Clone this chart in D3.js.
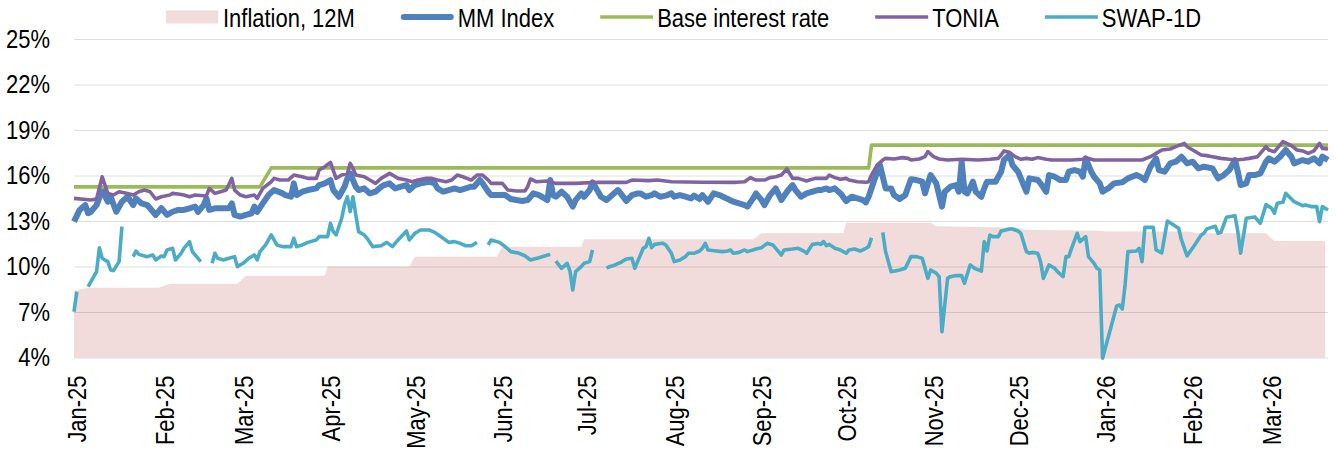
<!DOCTYPE html>
<html lang="en">
<head>
<meta charset="UTF-8">
<title>Money market rates</title>
<script src="https://d3js.org/d3.v7.min.js"></script>
<style>
  body { margin: 0; background: #fff; }
  text { font-family: "Liberation Sans", Arial, sans-serif; fill: #000; }
</style>
</head>
<body>
<svg id="chart" width="1336" height="449"></svg>
<script>
// ---- data ----
const yTicks = [4, 7, 10, 13, 16, 19, 22, 25];

const inflation12m = [
  ["2024-12-31", 8.40], ["2025-01-05", 8.60], ["2025-01-30", 8.60], ["2025-02-03", 8.87],
  ["2025-02-27", 8.87], ["2025-03-02", 9.39], ["2025-03-30", 9.39], ["2025-03-31", 10.00],
  ["2025-04-29", 10.00], ["2025-05-01", 10.65], ["2025-05-30", 10.65], ["2025-06-01", 11.30],
  ["2025-06-29", 11.30], ["2025-06-30", 11.79], ["2025-08-29", 11.79], ["2025-09-01", 12.19],
  ["2025-09-30", 12.19], ["2025-10-01", 12.89], ["2025-10-31", 12.89], ["2025-11-02", 12.65],
  ["2025-12-01", 12.55], ["2025-12-03", 12.42], ["2025-12-31", 12.35], ["2026-01-01", 12.30],
  ["2026-01-31", 12.30], ["2026-02-02", 12.19], ["2026-02-27", 12.19], ["2026-03-02", 11.68],
  ["2026-03-20", 11.68]
];

const mmIndex = [
  ["2024-12-31", 12.96], ["2025-01-02", 13.73], ["2025-01-04", 14.05], ["2025-01-05", 13.51],
  ["2025-01-06", 13.61], ["2025-01-08", 14.05], ["2025-01-10", 15.04], ["2025-01-12", 14.27],
  ["2025-01-13", 14.60], ["2025-01-15", 13.61], ["2025-01-17", 14.27], ["2025-01-19", 14.60],
  ["2025-01-21", 14.05], ["2025-01-22", 14.49], ["2025-01-24", 14.16], ["2025-01-26", 14.05],
  ["2025-01-29", 13.40], ["2025-01-31", 13.84], ["2025-02-02", 13.40], ["2025-02-04", 13.61],
  ["2025-02-06", 13.73], ["2025-02-08", 13.73], ["2025-02-10", 13.84], ["2025-02-12", 13.95],
  ["2025-02-13", 13.61], ["2025-02-15", 14.05], ["2025-02-16", 14.49], ["2025-02-17", 13.73],
  ["2025-02-19", 13.84], ["2025-02-22", 13.84], ["2025-02-24", 13.84], ["2025-02-25", 14.16],
  ["2025-02-26", 13.40], ["2025-02-28", 13.29], ["2025-03-02", 13.40], ["2025-03-04", 13.51],
  ["2025-03-05", 13.95], ["2025-03-06", 13.61], ["2025-03-08", 14.16], ["2025-03-10", 14.71],
  ["2025-03-12", 15.04], ["2025-03-15", 14.82], ["2025-03-16", 14.71], ["2025-03-18", 14.60],
  ["2025-03-19", 15.48], ["2025-03-20", 14.71], ["2025-03-22", 14.93], ["2025-03-24", 15.04],
  ["2025-03-27", 15.15], ["2025-03-28", 15.37], ["2025-03-30", 15.48], ["2025-04-01", 15.70],
  ["2025-04-02", 15.04], ["2025-04-04", 14.60], ["2025-04-06", 15.26], ["2025-04-07", 15.81],
  ["2025-04-08", 16.14], ["2025-04-10", 15.26], ["2025-04-11", 15.04], ["2025-04-13", 15.15],
  ["2025-04-15", 14.82], ["2025-04-17", 14.93], ["2025-04-19", 15.26], ["2025-04-20", 15.37],
  ["2025-04-22", 15.48], ["2025-04-24", 15.15], ["2025-04-26", 15.26], ["2025-04-28", 15.37],
  ["2025-04-29", 15.04], ["2025-05-01", 15.37], ["2025-05-03", 15.48], ["2025-05-06", 15.59],
  ["2025-05-08", 15.48], ["2025-05-09", 15.15], ["2025-05-11", 14.93], ["2025-05-13", 15.04],
  ["2025-05-15", 15.15], ["2025-05-17", 15.04], ["2025-05-19", 15.15], ["2025-05-21", 15.26],
  ["2025-05-22", 15.26], ["2025-05-24", 15.70], ["2025-05-25", 15.48], ["2025-05-27", 14.93],
  ["2025-05-28", 14.71], ["2025-05-31", 14.71], ["2025-06-02", 14.71], ["2025-06-04", 14.45],
  ["2025-06-06", 14.38], ["2025-06-08", 14.32], ["2025-06-10", 14.38], ["2025-06-12", 14.82],
  ["2025-06-14", 14.71], ["2025-06-16", 14.49], ["2025-06-17", 14.38], ["2025-06-18", 15.70],
  ["2025-06-19", 14.71], ["2025-06-20", 14.60], ["2025-06-22", 14.93], ["2025-06-24", 14.60],
  ["2025-06-26", 13.95], ["2025-06-27", 14.38], ["2025-06-29", 14.82], ["2025-06-30", 14.60],
  ["2025-07-02", 15.04], ["2025-07-03", 15.55], ["2025-07-05", 14.93], ["2025-07-06", 14.60],
  ["2025-07-08", 14.38], ["2025-07-10", 14.71], ["2025-07-12", 15.04], ["2025-07-13", 14.82],
  ["2025-07-15", 14.32], ["2025-07-17", 14.71], ["2025-07-19", 14.82], ["2025-07-20", 14.82],
  ["2025-07-22", 14.60], ["2025-07-24", 14.71], ["2025-07-25", 14.82], ["2025-07-27", 14.60],
  ["2025-07-29", 14.67], ["2025-07-31", 14.82], ["2025-08-01", 14.60], ["2025-08-03", 14.71],
  ["2025-08-05", 14.60], ["2025-08-07", 14.49], ["2025-08-08", 14.67], ["2025-08-10", 14.45],
  ["2025-08-11", 14.71], ["2025-08-13", 14.27], ["2025-08-15", 14.82], ["2025-08-17", 14.71],
  ["2025-08-20", 14.45], ["2025-08-22", 14.27], ["2025-08-24", 14.16], ["2025-08-26", 14.05],
  ["2025-08-27", 13.95], ["2025-08-29", 14.49], ["2025-08-30", 14.82], ["2025-09-01", 14.38],
  ["2025-09-02", 14.05], ["2025-09-04", 14.71], ["2025-09-06", 15.15], ["2025-09-08", 14.38],
  ["2025-09-10", 14.93], ["2025-09-12", 15.37], ["2025-09-13", 15.04], ["2025-09-15", 14.60],
  ["2025-09-17", 14.82], ["2025-09-19", 14.93], ["2025-09-21", 15.04], ["2025-09-22", 15.04],
  ["2025-09-24", 15.15], ["2025-09-25", 15.04], ["2025-09-27", 15.15], ["2025-09-29", 14.82],
  ["2025-10-01", 14.32], ["2025-10-03", 14.60], ["2025-10-05", 14.49], ["2025-10-07", 14.38],
  ["2025-10-08", 14.23], ["2025-10-09", 14.60], ["2025-10-11", 15.70], ["2025-10-13", 16.69],
  ["2025-10-15", 15.15], ["2025-10-17", 15.15], ["2025-10-18", 14.71], ["2025-10-20", 14.45],
  ["2025-10-22", 14.71], ["2025-10-24", 15.75], ["2025-10-26", 15.70], ["2025-10-28", 15.59],
  ["2025-10-29", 14.82], ["2025-10-30", 15.48], ["2025-10-31", 16.03], ["2025-11-02", 15.48],
  ["2025-11-04", 13.95], ["2025-11-05", 14.93], ["2025-11-07", 15.26], ["2025-11-09", 15.37],
  ["2025-11-10", 14.93], ["2025-11-11", 16.91], ["2025-11-12", 14.93], ["2025-11-13", 14.82],
  ["2025-11-15", 15.59], ["2025-11-16", 14.93], ["2025-11-18", 14.60], ["2025-11-19", 15.15],
  ["2025-11-20", 15.59], ["2025-11-23", 15.59], ["2025-11-25", 16.25], ["2025-11-26", 17.02],
  ["2025-11-28", 17.35], ["2025-11-29", 16.69], ["2025-12-01", 16.25], ["2025-12-02", 15.81],
  ["2025-12-04", 14.93], ["2025-12-05", 15.81], ["2025-12-08", 15.70], ["2025-12-09", 15.48],
  ["2025-12-11", 14.93], ["2025-12-12", 16.03], ["2025-12-14", 15.92], ["2025-12-16", 15.70],
  ["2025-12-18", 15.70], ["2025-12-19", 16.25], ["2025-12-21", 16.36], ["2025-12-23", 16.25],
  ["2025-12-24", 15.92], ["2025-12-25", 17.13], ["2025-12-27", 16.25], ["2025-12-28", 15.92],
  ["2025-12-30", 15.48], ["2025-12-31", 14.93], ["2026-01-02", 15.15], ["2026-01-04", 15.48],
  ["2026-01-07", 15.55], ["2026-01-09", 15.81], ["2026-01-12", 16.03], ["2026-01-14", 15.86],
  ["2026-01-15", 15.70], ["2026-01-17", 16.58], ["2026-01-19", 17.13], ["2026-01-20", 16.36],
  ["2026-01-22", 16.25], ["2026-01-24", 16.80], ["2026-01-26", 16.91], ["2026-01-28", 17.24],
  ["2026-01-30", 16.80], ["2026-02-01", 16.91], ["2026-02-03", 16.47], ["2026-02-05", 16.58],
  ["2026-02-08", 16.47], ["2026-02-10", 15.81], ["2026-02-12", 16.03], ["2026-02-14", 16.36],
  ["2026-02-16", 17.02], ["2026-02-17", 16.25], ["2026-02-18", 15.37], ["2026-02-20", 15.48],
  ["2026-02-21", 16.03], ["2026-02-23", 16.03], ["2026-02-25", 16.14], ["2026-02-27", 16.91],
  ["2026-02-28", 17.13], ["2026-03-02", 16.91], ["2026-03-04", 17.24], ["2026-03-06", 17.68],
  ["2026-03-08", 17.24], ["2026-03-09", 16.80], ["2026-03-12", 17.02], ["2026-03-14", 16.91],
  ["2026-03-16", 17.13], ["2026-03-18", 16.80], ["2026-03-19", 17.24], ["2026-03-21", 17.02]
];

const baseRate = [
  ["2024-12-31", 15.25], ["2025-03-07", 15.25], ["2025-03-11", 16.5],
  ["2025-10-09", 16.5], ["2025-10-10", 18.0], ["2026-03-21", 18.0]
];

const tonia = [
  ["2024-12-31", 14.49], ["2025-01-06", 14.38], ["2025-01-08", 14.45], ["2025-01-10", 15.92],
  ["2025-01-12", 14.82], ["2025-01-14", 14.71], ["2025-01-16", 14.93], ["2025-01-19", 14.82],
  ["2025-01-21", 14.71], ["2025-01-23", 14.93], ["2025-01-25", 15.04], ["2025-01-27", 14.93],
  ["2025-01-29", 14.45], ["2025-01-31", 14.60], ["2025-02-03", 14.71], ["2025-02-04", 14.82],
  ["2025-02-06", 14.78], ["2025-02-08", 14.71], ["2025-02-10", 14.60], ["2025-02-12", 14.71],
  ["2025-02-16", 14.65], ["2025-02-17", 15.15], ["2025-02-19", 14.82], ["2025-02-21", 14.93],
  ["2025-02-23", 15.04], ["2025-02-25", 15.81], ["2025-02-26", 15.04], ["2025-02-28", 14.71],
  ["2025-03-02", 14.60], ["2025-03-05", 14.71], ["2025-03-06", 14.49], ["2025-03-08", 15.15],
  ["2025-03-11", 15.59], ["2025-03-12", 15.81], ["2025-03-14", 15.70], ["2025-03-17", 15.70],
  ["2025-03-19", 16.03], ["2025-03-22", 15.92], ["2025-03-24", 15.81], ["2025-03-27", 15.81],
  ["2025-03-28", 16.36], ["2025-03-30", 16.58], ["2025-04-01", 16.87], ["2025-04-03", 15.81],
  ["2025-04-05", 16.03], ["2025-04-07", 16.14], ["2025-04-08", 16.80], ["2025-04-09", 16.47],
  ["2025-04-10", 16.03], ["2025-04-13", 15.92], ["2025-04-15", 15.70], ["2025-04-17", 15.48],
  ["2025-04-19", 15.81], ["2025-04-22", 16.14], ["2025-04-23", 16.03], ["2025-04-25", 15.81],
  ["2025-04-28", 15.70], ["2025-04-30", 15.59], ["2025-05-02", 15.70], ["2025-05-05", 15.81],
  ["2025-05-07", 15.81], ["2025-05-09", 15.70], ["2025-05-12", 15.59], ["2025-05-14", 15.70],
  ["2025-05-16", 16.03], ["2025-05-18", 15.92], ["2025-05-21", 15.70], ["2025-05-23", 16.03],
  ["2025-05-25", 16.03], ["2025-05-27", 15.70], ["2025-05-28", 15.48], ["2025-06-01", 15.48],
  ["2025-06-03", 15.04], ["2025-06-06", 14.98], ["2025-06-09", 14.98], ["2025-06-10", 15.26],
  ["2025-06-11", 15.77], ["2025-06-13", 15.59], ["2025-06-17", 15.64], ["2025-06-20", 15.48],
  ["2025-06-27", 15.48], ["2025-07-05", 15.55], ["2025-07-15", 15.55], ["2025-07-17", 15.70],
  ["2025-07-23", 15.66], ["2025-07-26", 15.70], ["2025-07-31", 15.59], ["2025-08-11", 15.55],
  ["2025-08-23", 15.55], ["2025-08-26", 15.59], ["2025-08-28", 15.86], ["2025-08-30", 15.70],
  ["2025-09-02", 15.70], ["2025-09-04", 15.86], ["2025-09-06", 15.92], ["2025-09-08", 16.03],
  ["2025-09-10", 16.43], ["2025-09-12", 15.81], ["2025-09-14", 15.81], ["2025-09-17", 15.64],
  ["2025-09-18", 15.70], ["2025-09-20", 15.81], ["2025-09-24", 15.81], ["2025-09-25", 16.03],
  ["2025-09-27", 15.86], ["2025-09-29", 15.75], ["2025-10-01", 15.81], ["2025-10-02", 15.70],
  ["2025-10-05", 15.59], ["2025-10-08", 15.55], ["2025-10-09", 15.59], ["2025-10-10", 16.03],
  ["2025-10-12", 16.69], ["2025-10-14", 17.02], ["2025-10-15", 17.13], ["2025-10-18", 17.09],
  ["2025-10-21", 17.18], ["2025-10-23", 17.13], ["2025-10-24", 17.02], ["2025-10-27", 17.09],
  ["2025-10-29", 17.24], ["2025-10-30", 17.57], ["2025-11-01", 17.24], ["2025-11-03", 17.09],
  ["2025-11-06", 17.02], ["2025-11-11", 17.07], ["2025-11-17", 17.02], ["2025-11-21", 17.07],
  ["2025-11-24", 17.13], ["2025-11-25", 17.35], ["2025-11-26", 17.62], ["2025-11-28", 17.53],
  ["2025-11-30", 17.24], ["2025-12-02", 17.07], ["2025-12-04", 17.13], ["2025-12-06", 17.07],
  ["2025-12-08", 17.18], ["2025-12-11", 17.07], ["2025-12-13", 17.02], ["2025-12-20", 17.02],
  ["2025-12-24", 17.07], ["2025-12-25", 17.18], ["2025-12-27", 17.07], ["2025-12-28", 17.02],
  ["2026-01-07", 17.02], ["2026-01-14", 17.02], ["2026-01-17", 17.24], ["2026-01-19", 17.46],
  ["2026-01-21", 17.68], ["2026-01-24", 17.75], ["2026-01-26", 17.90], ["2026-01-29", 18.12],
  ["2026-01-30", 17.90], ["2026-02-01", 17.68], ["2026-02-04", 17.35], ["2026-02-06", 17.31],
  ["2026-02-08", 17.24], ["2026-02-11", 17.13], ["2026-02-14", 17.07], ["2026-02-17", 17.04],
  ["2026-02-19", 17.07], ["2026-02-21", 17.13], ["2026-02-24", 17.24], ["2026-02-27", 17.90],
  ["2026-02-28", 17.68], ["2026-03-02", 17.57], ["2026-03-05", 18.23], ["2026-03-08", 17.97],
  ["2026-03-10", 17.68], ["2026-03-12", 17.62], ["2026-03-14", 17.46], ["2026-03-16", 17.62],
  ["2026-03-18", 18.12], ["2026-03-19", 17.79], ["2026-03-21", 17.75]
];

// null marks a break in the series
const swap1d = [
  ["2024-12-31", 7.02], ["2025-01-01", 8.34], ["2025-01-03", null],
  ["2025-01-05", 8.67], ["2025-01-08", 9.66], ["2025-01-09", 11.24], ["2025-01-10", 10.54],
  ["2025-01-11", 10.43], ["2025-01-12", 10.32], ["2025-01-13", 9.77], ["2025-01-14", 9.73],
  ["2025-01-16", 10.32], ["2025-01-17", 12.63], ["2025-01-19", null],
  ["2025-01-21", 10.65], ["2025-01-22", 11.02], ["2025-01-23", 10.80], ["2025-01-26", 10.65],
  ["2025-01-28", 10.76], ["2025-01-29", 10.43], ["2025-01-31", 10.69], ["2025-02-01", 10.65],
  ["2025-02-02", 11.09], ["2025-02-04", 11.20], ["2025-02-05", 10.43], ["2025-02-07", 10.87],
  ["2025-02-08", 11.20], ["2025-02-10", 11.64], ["2025-02-11", 10.98], ["2025-02-14", 10.32],
  ["2025-02-16", null],
  ["2025-02-18", 10.21], ["2025-02-19", 10.87], ["2025-02-20", 10.54], ["2025-02-22", 10.43],
  ["2025-02-24", 10.54], ["2025-02-26", 10.65], ["2025-02-27", 9.99], ["2025-03-01", 10.21],
  ["2025-03-03", 10.54], ["2025-03-05", 10.76], ["2025-03-06", 10.43], ["2025-03-07", 10.98],
  ["2025-03-09", 11.42], ["2025-03-11", 12.08], ["2025-03-13", 11.42], ["2025-03-15", 11.31],
  ["2025-03-18", 11.31], ["2025-03-19", 11.86], ["2025-03-20", 11.31], ["2025-03-22", 11.42],
  ["2025-03-24", 11.59], ["2025-03-27", 11.75], ["2025-03-28", 11.97], ["2025-03-31", 11.97],
  ["2025-04-01", 12.85], ["2025-04-02", 12.30], ["2025-04-03", 12.08], ["2025-04-05", 13.18],
  ["2025-04-06", 14.06], ["2025-04-07", 14.60], ["2025-04-08", 13.62], ["2025-04-09", 14.60],
  ["2025-04-10", 13.40], ["2025-04-11", 12.30], ["2025-04-13", 12.08], ["2025-04-14", 11.86],
  ["2025-04-16", 11.31], ["2025-04-19", 11.37], ["2025-04-21", 11.59], ["2025-04-23", 11.31],
  ["2025-04-25", 11.75], ["2025-04-28", 12.34], ["2025-04-29", 11.75], ["2025-05-01", 12.19],
  ["2025-05-03", 12.41], ["2025-05-06", 12.41], ["2025-05-08", 12.25], ["2025-05-11", 11.86],
  ["2025-05-13", 11.59], ["2025-05-15", 11.64], ["2025-05-17", 11.53], ["2025-05-19", 11.37],
  ["2025-05-21", 11.37], ["2025-05-23", 11.59], ["2025-05-25", null],
  ["2025-05-27", 11.42], ["2025-05-28", 11.75], ["2025-05-31", 11.59], ["2025-06-02", 11.31],
  ["2025-06-04", 10.98], ["2025-06-07", 10.87], ["2025-06-09", 10.71], ["2025-06-11", 10.43],
  ["2025-06-14", 10.58], ["2025-06-16", 10.69], ["2025-06-18", 10.80], ["2025-06-19", null],
  ["2025-06-20", 10.36], ["2025-06-22", 9.88], ["2025-06-24", 10.21], ["2025-06-25", 9.70],
  ["2025-06-26", 8.45], ["2025-06-27", 9.66], ["2025-06-29", 9.99], ["2025-06-30", 10.21],
  ["2025-07-02", 10.32], ["2025-07-03", 11.09], ["2025-07-05", null],
  ["2025-07-08", 9.88], ["2025-07-09", 9.99], ["2025-07-11", 10.10], ["2025-07-13", 10.27],
  ["2025-07-15", 10.49], ["2025-07-17", 10.54], ["2025-07-18", 9.88], ["2025-07-19", 10.32],
  ["2025-07-21", 11.20], ["2025-07-22", 11.31], ["2025-07-23", 11.86], ["2025-07-24", 11.24],
  ["2025-07-25", 11.46], ["2025-07-28", 11.53], ["2025-07-29", 11.42], ["2025-07-31", 10.87],
  ["2025-08-01", 10.32], ["2025-08-03", 10.43], ["2025-08-05", 10.65], ["2025-08-06", 10.87],
  ["2025-08-08", 10.87], ["2025-08-10", 11.02], ["2025-08-11", 11.20], ["2025-08-12", 11.53],
  ["2025-08-13", 11.09], ["2025-08-16", 11.02], ["2025-08-18", 10.98], ["2025-08-20", 11.02],
  ["2025-08-21", 11.09], ["2025-08-22", 10.87], ["2025-08-24", 10.93], ["2025-08-26", 11.09],
  ["2025-08-27", 10.98], ["2025-08-30", 11.15], ["2025-09-01", 11.24], ["2025-09-03", 11.53],
  ["2025-09-05", 11.42], ["2025-09-08", 10.76], ["2025-09-09", 11.09], ["2025-09-12", 11.15],
  ["2025-09-14", 11.20], ["2025-09-16", 11.02], ["2025-09-17", 10.87], ["2025-09-19", 11.46],
  ["2025-09-21", 11.51], ["2025-09-22", 11.46], ["2025-09-23", 11.64], ["2025-09-24", 11.37],
  ["2025-09-25", 11.46], ["2025-09-27", 11.20], ["2025-09-29", 11.09], ["2025-10-01", 10.87],
  ["2025-10-02", 11.09], ["2025-10-04", 11.15], ["2025-10-06", 11.02], ["2025-10-08", 11.20],
  ["2025-10-09", 11.31], ["2025-10-10", 11.90], ["2025-10-12", null],
  ["2025-10-14", 12.25], ["2025-10-15", 10.98], ["2025-10-17", 9.66], ["2025-10-20", 9.77],
  ["2025-10-22", 9.88], ["2025-10-24", 10.65], ["2025-10-26", 10.65], ["2025-10-28", 10.54],
  ["2025-10-30", 9.22], ["2025-10-31", 9.77], ["2025-11-02", 9.55], ["2025-11-03", 9.33],
  ["2025-11-04", 5.70], ["2025-11-06", 9.22], ["2025-11-07", 9.33], ["2025-11-09", 9.40],
  ["2025-11-11", 9.40], ["2025-11-12", 8.89], ["2025-11-14", 10.10], ["2025-11-16", 9.84],
  ["2025-11-18", 9.70], ["2025-11-19", 11.64], ["2025-11-20", 11.02], ["2025-11-21", 12.08],
  ["2025-11-22", 11.97], ["2025-11-24", 11.97], ["2025-11-25", 12.34], ["2025-11-28", 12.47],
  ["2025-11-29", 12.47], ["2025-12-01", 12.34], ["2025-12-02", 12.19], ["2025-12-04", 10.98],
  ["2025-12-05", 10.87], ["2025-12-06", 10.93], ["2025-12-08", 10.87], ["2025-12-09", 10.32],
  ["2025-12-10", 9.22], ["2025-12-12", 10.10], ["2025-12-14", 9.88], ["2025-12-15", 9.66],
  ["2025-12-17", 9.33], ["2025-12-18", 10.65], ["2025-12-19", 10.65], ["2025-12-20", 11.20],
  ["2025-12-22", 12.19], ["2025-12-23", 11.64], ["2025-12-25", 11.97], ["2025-12-26", 10.65],
  ["2025-12-28", 10.21], ["2025-12-29", 9.88], ["2025-12-30", 9.77], ["2025-12-31", 3.95],
  ["2026-01-05", 7.40], ["2026-01-06", 7.46], ["2026-01-07", 7.20], ["2026-01-08", 8.80],
  ["2026-01-09", 10.98], ["2026-01-12", 11.02], ["2026-01-13", 11.20], ["2026-01-14", 10.32],
  ["2026-01-15", 12.58], ["2026-01-18", 12.58], ["2026-01-19", 11.09], ["2026-01-21", 10.90],
  ["2026-01-23", 13.00], ["2026-01-27", 12.52], ["2026-01-28", 11.75], ["2026-01-30", 10.70],
  ["2026-02-02", 11.50], ["2026-02-04", 12.08], ["2026-02-05", 12.19], ["2026-02-06", 12.48],
  ["2026-02-09", 12.65], ["2026-02-10", 12.19], ["2026-02-11", 12.25], ["2026-02-13", 13.25],
  ["2026-02-16", 13.35], ["2026-02-17", 12.30], ["2026-02-18", 10.87], ["2026-02-20", 13.18],
  ["2026-02-23", 13.27], ["2026-02-25", 12.85], ["2026-02-27", 14.08], ["2026-03-01", 13.84],
  ["2026-03-02", 13.51], ["2026-03-03", 14.17], ["2026-03-05", 14.23], ["2026-03-06", 14.82],
  ["2026-03-09", 14.27], ["2026-03-12", 14.01], ["2026-03-13", 14.06], ["2026-03-15", 13.95],
  ["2026-03-17", 13.95], ["2026-03-18", 12.96], ["2026-03-19", 13.95], ["2026-03-21", 13.73]
];

const seriesNames = ["Inflation, 12M", "MM Index", "Base interest rate", "TONIA", "SWAP-1D"];
const seriesColors = ["#f2dcdb", "#4f81bd", "#9bbb59", "#8064a2", "#4bacc6"];

// ---- drawing ----
const parse = d3.utcParse("%Y-%m-%d");
const toPts = arr => arr.map(([d, v]) => ({ date: parse(d), value: v }));

const svg = d3.select("#chart");
const plotLeft = 74, plotRight = 1328, plotTop = 39, plotBottom = 357.5;
const fontSize = 26;
const narrow = 0.845; // the reference uses a narrow face; squeeze Liberation Sans to match

const x = d3.scaleUtc()
  .domain([parse("2024-12-31"), parse("2026-03-21")])
  .range([plotLeft, plotRight]);

const y = d3.scaleLinear()
  .domain([d3.min(yTicks), d3.max(yTicks)])
  .range([plotBottom, plotTop]);

// inflation area
const area = d3.area()
  .x(d => x(d.date))
  .y0(plotBottom)
  .y1(d => y(d.value));

svg.append("path")
  .datum(toPts(inflation12m))
  .attr("fill", seriesColors[0])
  .attr("d", area);

// y axis + gridlines
const yAxis = svg.append("g")
  .attr("transform", `translate(${plotLeft},0)`)
  .call(d3.axisLeft(y)
    .tickValues(yTicks)
    .tickSize(-(plotRight - plotLeft))
    .tickFormat(d => d + "%"));
yAxis.attr("font-family", null);
yAxis.select(".domain").remove();
yAxis.selectAll(".tick line").attr("stroke", "#000").attr("stroke-opacity", 0.13);
yAxis.selectAll(".tick text")
  .attr("font-size", fontSize)
  .attr("x", -24 / narrow)
  .attr("transform", `scale(${narrow},1)`);

// x axis
const xAxis = svg.append("g")
  .attr("transform", `translate(0,${plotBottom})`)
  .call(d3.axisBottom(x)
    .ticks(d3.utcMonth.every(1))
    .tickSize(0)
    .tickFormat(d3.utcFormat("%b-%y")));
xAxis.attr("font-family", null);
xAxis.select(".domain").remove();
xAxis.selectAll(".tick text")
  .attr("font-size", fontSize)
  .attr("transform", `rotate(-90) scale(${narrow},1)`)
  .attr("text-anchor", "end")
  .attr("x", -18 / narrow)
  .attr("y", 0)
  .attr("dy", "0.35em");

// lines
const line = d3.line()
  .defined(d => d.value != null)
  .x(d => x(d.date))
  .y(d => y(d.value));

const lineSeries = [
  { data: mmIndex, color: seriesColors[1], width: 6 },
  { data: baseRate, color: seriesColors[2], width: 3.6 },
  { data: tonia, color: seriesColors[3], width: 3.6 },
  { data: swap1d, color: seriesColors[4], width: 3.6 }
];

lineSeries.forEach(s => {
  svg.append("path")
    .datum(toPts(s.data))
    .attr("fill", "none")
    .attr("stroke", s.color)
    .attr("stroke-width", s.width)
    .attr("stroke-linejoin", "round")
    .attr("d", line);
});

// legend
const legend = svg.append("g");
let lx = 166;
const ly = 17;
seriesNames.forEach((name, i) => {
  if (i === 0) {
    legend.append("rect")
      .attr("x", lx).attr("y", ly - 6.5)
      .attr("width", 52).attr("height", 13)
      .attr("fill", seriesColors[i]);
  } else {
    legend.append("line")
      .attr("x1", lx + (i === 1 ? 3 : 0)).attr("x2", lx + (i === 1 ? 50 : 53))
      .attr("y1", ly).attr("y2", ly)
      .attr("stroke", seriesColors[i])
      .attr("stroke-width", lineSeries[i - 1].width)
      .attr("stroke-linecap", i === 1 ? "round" : "butt");
  }
  const t = legend.append("text")
    .attr("transform", `translate(${lx + 57},26.5) scale(${narrow},1)`)
    .attr("font-size", fontSize)
    .text(name);
  lx += 57 + t.node().getComputedTextLength() * narrow + 46;
});
</script>
</body>
</html>
